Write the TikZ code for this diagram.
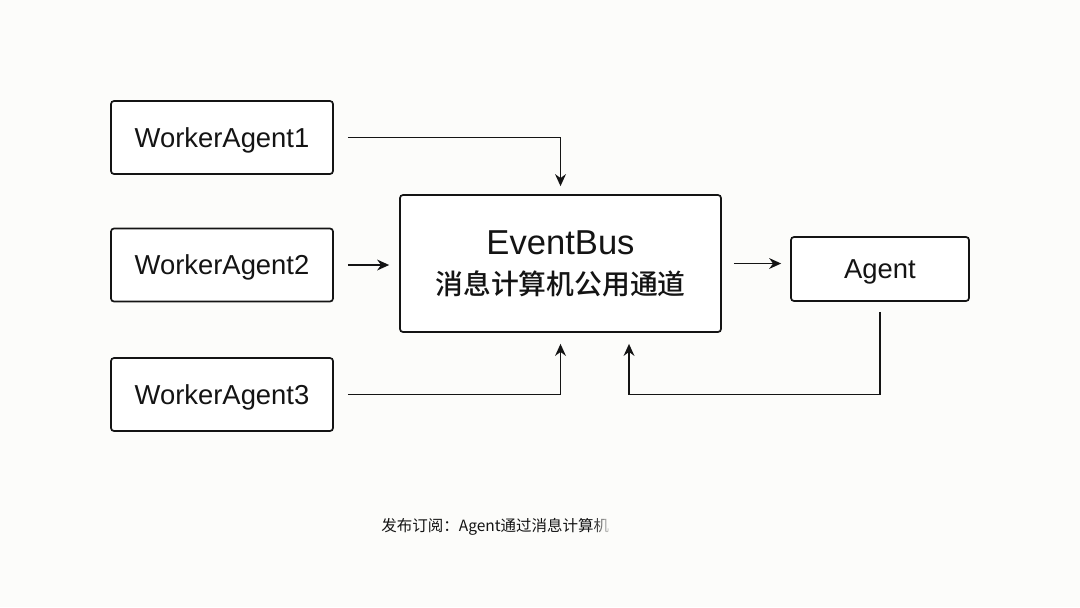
\documentclass[tikz,border=0pt]{standalone}
\usepackage{fontspec}
\setmainfont{Liberation Sans}
\newfontfamily\cjk{Noto Sans CJK SC}
\newfontfamily\cjkmid{Noto Sans CJK SC}[UprightFont=* Medium]
\usetikzlibrary{arrows.meta}
\definecolor{paper}{RGB}{252,252,250}
\definecolor{ink}{RGB}{20,20,20}

\begin{document}
\begin{tikzpicture}[x=0.5pt, y=-0.5pt,
    box/.style={draw=ink, line width=0.85pt, rounded corners=1.5pt, fill=white, text=ink, inner sep=0pt},
    worker/.style={box, minimum width=111pt, minimum height=36.5pt, text depth=0pt, font=\fontsize{13.7}{16}\selectfont},
    arr/.style={draw=ink, line width=0.85pt, -{Stealth[length=6pt, width=5.4pt]}}]

	\fill[paper] (0,0) rectangle (1080,607);
	\useasboundingbox (0,0) rectangle (1080,607);

	\node[worker] (w1) at (222,137.5) {WorkerAgent1};
	\node[worker] (w2) at (222,265) {WorkerAgent2};
	\node[worker] (w3) at (222,394.5) {WorkerAgent3};

	\node[box, minimum width=160.5pt, minimum height=68.5pt, align=center] (bus) at (560.5,263.5)
		{{\fontsize{17.3}{20}\selectfont EventBus}\\[7pt]{\cjkmid\fontsize{13.9}{16}\selectfont 消息计算机公用通道}};
	\node[box, minimum width=89pt, minimum height=32pt, text depth=0pt, font=\fontsize{13.7}{16}\selectfont] (agent) at (880,269) {Agent};

	\draw[arr] ([xshift=7pt]w1.east) -| ([yshift=4pt]bus.north);
	\draw[arr] ([xshift=7pt]w2.east) -- ([xshift=-5pt]w2.east -| bus.west);
	\draw[arr] ([xshift=7pt]w3.east) -| ([yshift=-5.5pt]bus.south);
	\draw[arr] ([xshift=6pt]bus.east) -- ([xshift=-4.5pt]bus.east -| agent.west);
	\draw[arr] ([yshift=-5pt]agent.south) -- (agent.south |- w3.east) -| ([xshift=34.25pt, yshift=-5.5pt]bus.south);

	% caption, cut off at the right
	\node[anchor=west, inner sep=0pt, text=ink, font=\cjk\fontsize{7.75}{9}\selectfont] (note) at (381,527)
		{发布订阅：Agent通过消息计算机};
	\foreach \i in {1,...,9}
		\fill[paper, opacity=\i/10] (592+2*\i,512) rectangle (594+2*\i,542);
	\fill[paper] (612,512) rectangle (640,542);
\end{tikzpicture}
\end{document}
